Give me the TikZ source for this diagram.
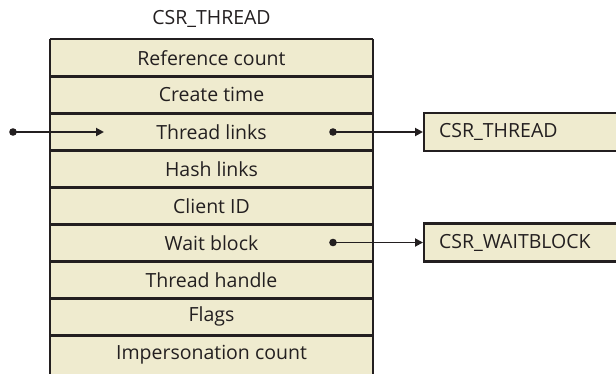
\documentclass[tikz,border=0pt]{standalone}
\usepackage{fontspec}
\setmainfont{Open Sans}
\usetikzlibrary{arrows.meta,calc}
\definecolor{cream}{RGB}{239,235,207}
\definecolor{ink}{RGB}{35,31,32}
\begin{document}
\begin{tikzpicture}[x=1pt,y=-1pt,
  every node/.style={font=\fontsize{19.5}{22}\selectfont, text=ink},
  rowbox/.style={rectangle, fill=cream, minimum width=323pt, minimum height=37pt, inner sep=0pt, anchor=north},
  frame/.style={draw=ink, line width=2.3pt},
  sidebox/.style={rectangle, draw=ink, fill=cream, line width=2.3pt, minimum height=38pt, text width=200pt, align=left, inner xsep=15pt, inner ysep=0pt, anchor=west},
  link/.style={draw=ink, line width=1.9pt, -{Triangle[length=8pt,width=8pt]}},
  dot/.style={fill=ink}
]
\useasboundingbox (0,0) rectangle (616,373);
\clip (0,0) rectangle (616,373);
\node (title) at (211.5,19) {CSR\_THREAD};
\node[rowbox] (r1) at (211.5,39) {Reference count};
\node[rowbox] (r2) at (211.5,76) {Create time};
\node[rowbox] (r3) at (211.5,113) {Thread links};
\node[rowbox] (r4) at (211.5,150) {Hash links};
\node[rowbox] (r5) at (211.5,187) {Client ID};
\node[rowbox] (r6) at (211.5,224) {Wait block};
\node[rowbox] (r7) at (211.5,261) {Thread handle};
\node[rowbox] (r8) at (211.5,298) {Flags};
\node[rowbox, minimum height=39pt] (r9) at (211.5,335) {Impersonation count};
% frame and separators
\draw[frame] (r1.north west) -- (r1.north east);
\foreach \k in {1,...,8}{\draw[frame] (r\k.south west) -- (r\k.south east);}
\draw[frame] (r1.north west) -- (r9.south west);
\draw[frame] (r1.north east) -- (r9.south east);
% side boxes
\node[sidebox] (ct) at (423,132) {CSR\_THREAD};
\node[sidebox] (cw) at (423,242.5) {CSR\_WAITBLOCK};
% connectors
\coordinate (inS) at (13,132);
\coordinate (inE) at (104,132);
\coordinate (tS) at (333,132);
\coordinate (wS) at (333,242.5);
\draw[link] (inS) -- (inE);
\draw[link] (tS) -- (ct.west);
\draw[link] (wS) -- (cw.west);
\fill[dot] (inS) circle (3.8pt);
\fill[dot] (tS) circle (3.8pt);
\fill[dot] (wS) circle (3.8pt);
\end{tikzpicture}
\end{document}
